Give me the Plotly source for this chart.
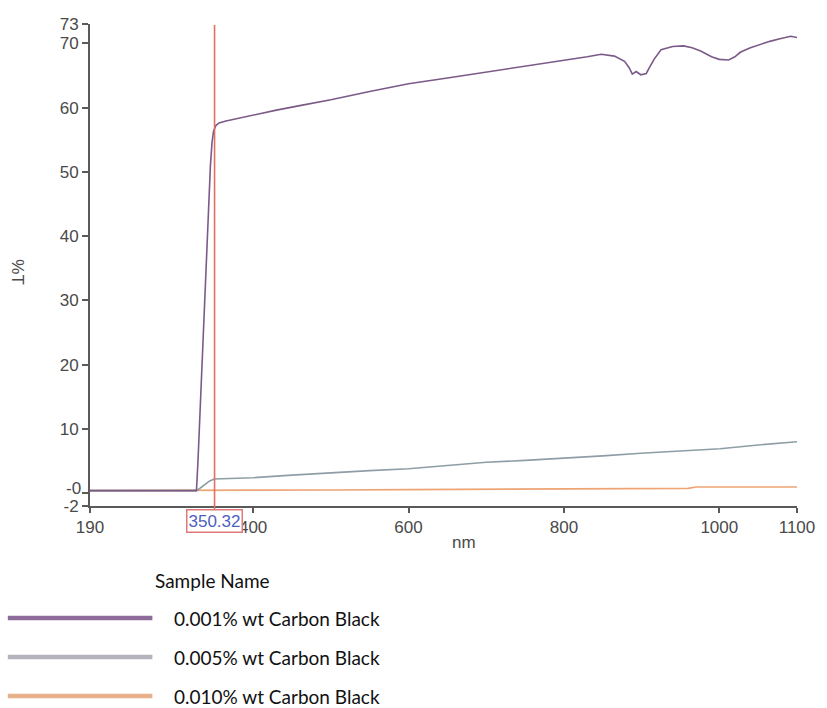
import plotly.graph_objects as go

# ---- data ----
series_names = ["0.001% wt Carbon Black", "0.005% wt Carbon Black", "0.010% wt Carbon Black"]

nm_a = [190, 250, 300, 327, 329, 331, 333, 335, 337, 339, 341, 343, 345, 347, 349, 352, 356,
        365, 380, 400, 430, 460, 500, 550, 600, 650, 700, 750, 800, 830, 848, 865, 878, 884,
        888, 893, 899, 906, 910, 916, 925, 940, 954, 965, 976, 990, 1000, 1012, 1020, 1027,
        1040, 1052, 1065, 1078, 1092, 1100]
t_a = [0.4, 0.4, 0.4, 0.4, 5.0, 11.0, 17.0, 23.0, 29.0, 35.0, 41.0, 46.0, 51.0, 54.5, 56.3, 57.2, 57.6,
       57.9, 58.3, 58.8, 59.6, 60.3, 61.2, 62.5, 63.7, 64.6, 65.5, 66.4, 67.3, 67.9, 68.3, 68.0, 67.2, 66.2,
       65.2, 65.6, 65.1, 65.3, 66.2, 67.5, 69.0, 69.5, 69.6, 69.3, 68.8, 67.9, 67.5, 67.4, 67.9, 68.6,
       69.3, 69.8, 70.3, 70.7, 71.1, 70.9]

nm_b = [190, 250, 300, 327, 332, 338, 344, 350, 370, 400, 450, 500, 550, 600, 650, 700, 750, 814,
        850, 899, 950, 1001, 1050, 1100]
t_b = [0.4, 0.4, 0.4, 0.4, 0.8, 1.4, 1.9, 2.2, 2.3, 2.4, 2.8, 3.2, 3.5, 3.8, 4.3, 4.8, 5.1, 5.5,
       5.8, 6.2, 6.6, 6.9, 7.5, 8.0]

nm_c = [190, 250, 300, 327, 340, 350, 400, 500, 600, 700, 814, 900, 960, 970, 1050, 1100]
t_c = [0.4, 0.4, 0.4, 0.4, 0.4, 0.4, 0.45, 0.5, 0.55, 0.6, 0.65, 0.7, 0.75, 0.95, 0.95, 0.95]

cursor_nm = 350.32

x_tickvals = [190, 400, 600, 800, 1000, 1100]
x_ticktext = ["190", "400", "600", "800", "1000", "1100"]
y_tickvals = [-2, 0, 10, 20, 30, 40, 50, 60, 70, 73]
y_ticktext = ["-2", "", "10", "20", "30", "40", "50", "60", "70", "73"]
zero_label = "-0"

# ---- styling ----
line_colors = ["#7b5a88", "#8e9ea6", "#eea474"]
legend_colors = ["#8e6b9a", "#b4b4bc", "#e8b08a"]
axis_color = "#5a5a5a"
tick_font = dict(family="Liberation Sans, Arial, sans-serif", size=17, color="#4a4a4a")

W, H = 827, 708
L, R, T, B = 90, 23, 24, 202
pw, ph = W - L - R, H - T - B


def px_x(p):
    return (p - L) / pw


def px_y(p):
    return (H - B - p) / ph


fig = go.Figure()
data = [(nm_c, t_c), (nm_b, t_b), (nm_a, t_a)]
order = [2, 1, 0]
for idx, (xs, ys) in zip(order, data):
    fig.add_trace(go.Scatter(x=xs, y=ys, mode="lines", name=series_names[idx],
                             line=dict(color=line_colors[idx], width=1.6),
                             showlegend=False, hoverinfo="x+y"))

shapes = []
annotations = []

# cursor line
shapes.append(dict(type="line", xref="x", yref="paper", x0=cursor_nm, x1=cursor_nm,
                   y0=px_y(517), y1=px_y(25), line=dict(color="#e07062", width=1.6)))
annotations.append(dict(xref="x", yref="paper", x=cursor_nm, y=px_y(521), text="350.32",
                        showarrow=False, xanchor="center", yanchor="middle",
                        font=dict(family="Liberation Sans, Arial, sans-serif", size=17, color="#4e5fbf"),
                        bgcolor="#ffffff", bordercolor="#e07a7a", borderwidth=1.5, borderpad=1))

# "-0" tick label, nudged up as in the reference
annotations.append(dict(xref="paper", yref="paper", x=px_x(83), y=px_y(488), text=zero_label,
                        showarrow=False, xanchor="right", yanchor="middle", font=tick_font))

# axis titles
annotations.append(dict(xref="paper", yref="paper", x=px_x(468), y=px_y(542), text="nm",
                        showarrow=False, xanchor="center", yanchor="middle", font=tick_font))
annotations.append(dict(xref="paper", yref="paper", x=px_x(17), y=px_y(272), text="%T",
                        showarrow=False, xanchor="center", yanchor="middle", textangle=90,
                        font=tick_font))

# manual legend
legend_font = dict(family="Lato, Noto Sans, sans-serif", size=19, color="#111111")
annotations.append(dict(xref="paper", yref="paper", x=px_x(154), y=px_y(580), text="Sample Name",
                        showarrow=False, xanchor="left", yanchor="middle", font=legend_font))
legend_y = [618, 657, 696]
for i, name in enumerate(series_names):
    shapes.append(dict(type="line", xref="paper", yref="paper", x0=px_x(7), x1=px_x(153),
                       y0=px_y(legend_y[i]), y1=px_y(legend_y[i]),
                       line=dict(color=legend_colors[i], width=4.5)))
    annotations.append(dict(xref="paper", yref="paper", x=px_x(173), y=px_y(legend_y[i]), text=name,
                            showarrow=False, xanchor="left", yanchor="middle", font=legend_font))

fig.update_layout(
    width=W, height=H,
    margin=dict(l=L, r=R, t=T, b=B, pad=0),
    paper_bgcolor="white", plot_bgcolor="white",
    showlegend=False,
    shapes=shapes, annotations=annotations,
    xaxis=dict(range=[190, 1100], tickvals=x_tickvals, ticktext=x_ticktext,
               showgrid=False, zeroline=False, showline=True, linecolor=axis_color, linewidth=2,
               ticks="outside", ticklen=5, tickwidth=1.5, tickcolor=axis_color, tickfont=tick_font),
    yaxis=dict(range=[-2, 73], tickvals=y_tickvals, ticktext=y_ticktext,
               showgrid=False, zeroline=False, showline=True, linecolor=axis_color, linewidth=2,
               ticks="outside", ticklen=6, tickwidth=1.5, tickcolor=axis_color, tickfont=tick_font),
)

fig.write_html("out.html", config={"displayModeBar": False},
               post_script="document.body.style.margin='0px';document.body.style.overflow='hidden';")
